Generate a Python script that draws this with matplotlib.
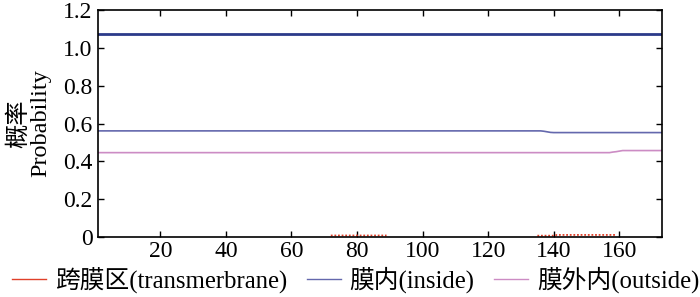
import numpy as np
import matplotlib
matplotlib.use("Agg")
import matplotlib.pyplot as plt
from matplotlib.lines import Line2D

plt.rcParams['font.family'] = ['Liberation Serif', 'Noto Sans CJK SC']

# Data (breakpoints)
top_x = [1, 173]
top_y = [1.073, 1.073]

inside_x = [1, 136, 137, 138, 139, 140, 173]
inside_y = [0.561, 0.561, 0.559, 0.556, 0.553, 0.552, 0.552]

outside_x = [1, 157, 158, 159, 160, 161, 173]
outside_y = [0.446, 0.446, 0.449, 0.451, 0.454, 0.457, 0.457]

tm_x = [72, 89, np.nan, 135, 140, 141, 159]
tm_y = [0.008, 0.008, np.nan, 0.007, 0.007, 0.011, 0.011]

xticks = [20, 40, 60, 80, 100, 120, 140, 160]
yticks = [0, 0.2, 0.4, 0.6, 0.8, 1.0, 1.2]
ytick_labels = ['0', '0.2', '0.4', '0.6', '0.8', '1.0', '1.2']

c_red = '#e0402a'
c_blue = '#6468ad'
c_dark = '#2b3a8a'
c_pink = '#cc8cc4'

fig = plt.figure(figsize=(7.0, 2.97), dpi=100)
ax = fig.add_axes([0.14, 0.202, 0.8057, 0.7643])

ax.plot(top_x, top_y, color=c_dark, lw=2.0)
ax.plot(inside_x, inside_y, color=c_blue, lw=1.2)
ax.plot(outside_x, outside_y, color=c_pink, lw=1.2)
ax.plot(tm_x, tm_y, color=c_red, lw=1.3, ls=(0, (1, 1)))

ax.set_xlim(1, 173)
ax.set_ylim(0, 1.2)
ax.set_xticks(xticks)
ax.set_yticks(yticks)
ax.set_yticklabels(ytick_labels)
ax.tick_params(direction='in', top=True, right=True, length=4, width=1,
               labelsize=17, pad=3)
ax.tick_params(axis='y', pad=4)
for s in ax.spines.values():
    s.set_linewidth(1.2)

ax.set_ylabel('概率\nProbability', fontsize=17.5, linespacing=1.0)
ax.yaxis.set_label_coords(-0.083, 0.5)

handles = [Line2D([], [], color=c_red, lw=1.0),
           Line2D([], [], color=c_blue, lw=1.0),
           Line2D([], [], color=c_pink, lw=1.0)]
labels = ['跨膜区(transmerbrane)', '膜内(inside)', '膜外内(outside)']
fig.legend(handles, labels, loc='center', bbox_to_anchor=(0.508, 0.057), ncol=3,
           frameon=False, fontsize=17.8, handlelength=1.37, handletextpad=0.36,
           columnspacing=0.8, borderaxespad=0, borderpad=0)

fig.savefig('out.png', dpi=100)
